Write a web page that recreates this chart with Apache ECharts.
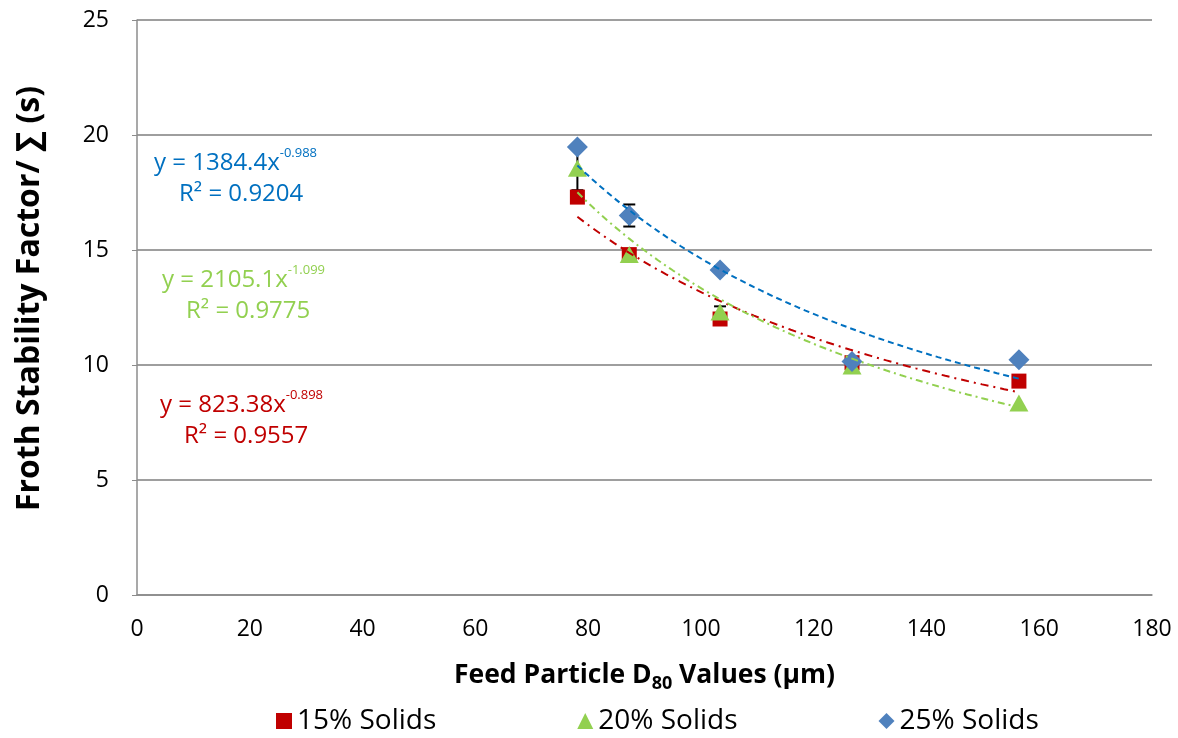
<!DOCTYPE html>
<html>
<head>
<meta charset="utf-8">
<script src="https://cdn.jsdelivr.net/npm/echarts@6/dist/echarts.min.js"></script>
<style>
html,body{margin:0;padding:0;background:#fff;}
#chart{width:1178px;height:738px;}
</style>
</head>
<body>
<div id="chart"></div>
<script>
// Feed particle D80 sizes (µm)
const d80 = [78.1, 87.3, 103.4, 126.8, 156.4];

// Froth stability factor (s) per solids concentration
const solids15 = [17.3, 14.8, 12.0, 10.1, 9.3];
const solids20 = [18.55, 14.8, 12.3, 9.96, 8.35];
const solids25 = [19.48, 16.5, 14.13, 10.15, 10.23];

// Error bar half-widths (s)
const err15 = [0, 0, 0, 0, 0];
const err20 = [0.95, 0, 0.25, 0, 0];
const err25 = [0, 0.48, 0, 0, 0];

// Power trendline coefficients y = a * x^b
const fit15 = [823.38, -0.898];
const fit20 = [2105.1, -1.099];
const fit25 = [1384.4, -0.988];
const rsq15 = '0.9557';
const rsq20 = '0.9775';
const rsq25 = '0.9204';

const seriesNames = ['15% Solids', '20% Solids', '25% Solids'];
const yTicks = [0, 5, 10, 15, 20, 25];
const xTicks = [0, 20, 40, 60, 80, 100, 120, 140, 160, 180];

const RED = '#C00000', GREEN = '#92D050', BLUE = '#4F81BD', BLUE_TXT = '#0070C0';
const FONT = '"Open Sans", "Noto Sans", sans-serif';

function pairs(xs, ys) { return xs.map((x, i) => [x, ys[i]]); }

function trend(coef, xs) {
  const lo = Math.min(...xs), hi = Math.max(...xs), n = 60, out = [];
  for (let i = 0; i <= n; i++) {
    const x = lo + (hi - lo) * i / n;
    out.push([x, coef[0] * Math.pow(x, coef[1])]);
  }
  return out;
}

function errData(xs, ys, es) {
  const out = [];
  xs.forEach((x, i) => { if (es[i] > 0) out.push([x, ys[i] - es[i], ys[i] + es[i]]); });
  return out;
}

function errSeries(data) {
  return {
    type: 'custom', z: 1, silent: true,
    data: data,
    renderItem: function (params, api) {
      const lo = api.coord([api.value(0), api.value(1)]);
      const hi = api.coord([api.value(0), api.value(2)]);
      const w = 6;
      const st = { stroke: '#000', lineWidth: 2 };
      return { type: 'group', children: [
        { type: 'line', shape: { x1: lo[0], y1: lo[1], x2: hi[0], y2: hi[1] }, style: st },
        { type: 'line', shape: { x1: lo[0] - w, y1: lo[1], x2: lo[0] + w, y2: lo[1] }, style: st },
        { type: 'line', shape: { x1: hi[0] - w, y1: hi[1], x2: hi[0] + w, y2: hi[1] }, style: st }
      ]};
    }
  };
}

// Trendline equation and R² annotation, two lines
function eqText(coef, rsq, color, left, top, rleft) {
  const b = coef[1].toFixed(3);
  return [
    { type: 'text', left: left, top: top, z: 10,
      style: { rich: {
        a: { fontSize: 24, lineHeight: 32, fill: color, fontFamily: FONT },
        e: { fontSize: 13, lineHeight: 22, verticalAlign: 'top', fill: color, fontFamily: FONT }
      }, text: '{a|y = ' + coef[0] + 'x}{e|' + b + '}' } },
    { type: 'text', left: rleft, top: top + 35, z: 10,
      style: { rich: {
        a: { fontSize: 24, lineHeight: 32, fill: color, fontFamily: FONT }
      }, text: '{a|R\u00b2 = ' + rsq + '}' } }
  ];
}

const chart = echarts.init(document.getElementById('chart'));
chart.setOption({
  animation: false,
  backgroundColor: '#fff',
  textStyle: { fontFamily: FONT },
  grid: { left: 137, right: 26, top: 20, bottom: 143 },
  xAxis: {
    type: 'value', min: xTicks[0], max: xTicks[xTicks.length - 1], interval: 20,
    name: '{a|Feed Particle D}{s|80}{a| Values (\u00b5m)}',
    nameLocation: 'middle', nameGap: 62,
    nameTextStyle: { rich: {
      a: { fontSize: 26.5, fontWeight: 'bold', lineHeight: 36, color: '#000', fontFamily: FONT },
      s: { fontSize: 18, fontWeight: 'bold', lineHeight: 18, verticalAlign: 'bottom', color: '#000', fontFamily: FONT }
    } },
    axisLine: { show: true, lineStyle: { color: '#8C8C8C', width: 1.5 } },
    axisTick: { show: false },
    axisLabel: { fontSize: 23, color: '#000', margin: 23, fontFamily: FONT },
    splitLine: { show: false }
  },
  yAxis: {
    type: 'value', min: yTicks[0], max: yTicks[yTicks.length - 1], interval: 5,
    name: 'Froth Stability Factor/ \u2211 (s)',
    nameLocation: 'middle', nameGap: 91, nameRotate: 90,
    nameTextStyle: { fontSize: 32, fontWeight: 'bold', color: '#000', fontFamily: FONT,
      padding: [0, 0, 0, 18] },
    axisLine: { show: true, lineStyle: { color: '#8C8C8C', width: 1.5 } },
    axisTick: { show: true, inside: false, length: 5, lineStyle: { color: '#8C8C8C' } },
    axisLabel: { fontSize: 23, color: '#000', margin: 28, fontFamily: FONT },
    splitLine: { show: true, lineStyle: { color: '#9E9E9E', width: 2 } }
  },
  legend: {
    top: 702, left: 271, itemGap: 141, itemWidth: 16, itemHeight: 16,
    textStyle: { fontSize: 28, color: '#000', fontFamily: FONT },
    data: [
      { name: seriesNames[0], icon: 'rect', itemStyle: { color: RED } },
      { name: seriesNames[1], icon: 'triangle', itemStyle: { color: GREEN } },
      { name: seriesNames[2], icon: 'diamond', itemStyle: { color: BLUE } }
    ]
  },
  graphic: [].concat(
    eqText(fit25, rsq25, BLUE_TXT, 154, 147, 179),
    eqText(fit20, rsq20, GREEN, 162, 264, 186),
    eqText(fit15, rsq15, RED, 160, 389, 184)
  ),
  series: [
    errSeries(errData(d80, solids15, err15)),
    errSeries(errData(d80, solids20, err20)),
    errSeries(errData(d80, solids25, err25)),
    { name: seriesNames[0], type: 'scatter', z: 2, symbol: 'rect', symbolSize: 15,
      itemStyle: { color: RED, opacity: 1 }, data: pairs(d80, solids15) },
    { name: seriesNames[1], type: 'scatter', z: 2, symbol: 'triangle', symbolSize: [19, 17],
      itemStyle: { color: GREEN, opacity: 1 }, data: pairs(d80, solids20) },
    { name: seriesNames[2], type: 'scatter', z: 2, symbol: 'diamond', symbolSize: [21, 21],
      itemStyle: { color: BLUE, opacity: 1 }, data: pairs(d80, solids25) },
    { type: 'line', z: 3, silent: true, symbol: 'none', smooth: false,
      lineStyle: { color: RED, width: 2, type: [8, 5, 2, 5] }, data: trend(fit15, d80) },
    { type: 'line', z: 3, silent: true, symbol: 'none', smooth: false,
      lineStyle: { color: GREEN, width: 2, type: [7, 4, 2, 4] }, data: trend(fit20, d80) },
    { type: 'line', z: 3, silent: true, symbol: 'none', smooth: false,
      lineStyle: { color: BLUE_TXT, width: 2, type: [6, 4] }, data: trend(fit25, d80) }
  ]
});
</script>
</body>
</html>
